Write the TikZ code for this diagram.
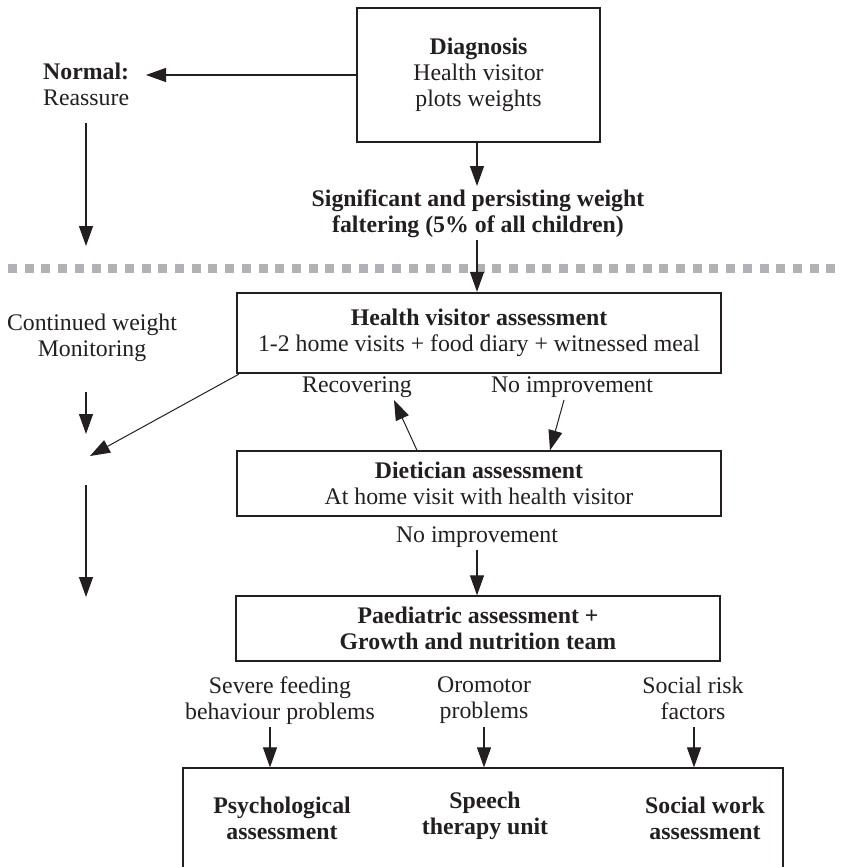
\documentclass[tikz,border=0pt]{standalone}
\usepackage{fontspec}
\setmainfont{Liberation Serif}
\usetikzlibrary{arrows.meta}
\definecolor{dashgray}{RGB}{178,178,182}
\definecolor{ink}{RGB}{35,31,32}
\begin{document}
\begin{tikzpicture}[x=1pt,y=-1pt, color=ink,
  box/.style={draw, line width=1.3pt, inner sep=0pt, align=center, font=\fontsize{23.8}{26}\selectfont},
  thickbox/.style={box, line width=2.4pt},
  arr/.style={line width=1.2pt, -{Triangle[length=20pt,width=14pt]}},
  thinarr/.style={line width=1pt, -{Triangle[length=20pt,width=14pt]}},
  txt/.style={align=center, font=\fontsize{23.8}{26}\selectfont, inner sep=0pt},
  btxt/.style={txt, font=\fontsize{23.8}{26}\selectfont\bfseries},
]
\useasboundingbox (0,0) rectangle (841,867);
\clip (0,0) rectangle (841,867);

% dashed separator
\draw[line width=9pt, color=dashgray, dash pattern=on 9pt off 7.7pt] (8,268) -- (845,268);

% boxes
\node[box, minimum width=243pt, minimum height=134pt] (diag) at (478.5,75)
  {\textbf{Diagnosis}\\Health visitor\\plots weights};
\node[thickbox, minimum width=484pt, minimum height=80pt] (hv) at (479,333)
  {\textbf{Health visitor assessment}\\1-2 home visits + food diary + witnessed meal};
\node[box, minimum width=484pt, minimum height=65pt] (diet) at (479,483.5)
  {\textbf{Dietician assessment}\\At home visit with health visitor};
\node[box, minimum width=484pt, minimum height=65pt] (paed) at (478,628.5)
  {\textbf{Paediatric assessment +}\\\textbf{Growth and nutrition team}};
\node[box, minimum width=600pt, minimum height=130pt] (bottom) at (483,833) {};

\node[btxt] (psy) at (282,818) {Psychological\\assessment};
\node[btxt] (speech) at (485,816) {Speech\\therapy unit};
\node[btxt] (social) at (705,818) {Social work\\assessment};

% free labels
\node[txt, align=left, anchor=west] (normal) at (43,84) {\textbf{Normal:}\\Reassure};
\node[btxt] (sig) at (478,213.5)
  {Significant and persisting weight\\faltering (5\% of all children)};
\node[txt] (cont) at (92,338) {Continued weight\\Monitoring};
\node[txt] (rec) at (357,387) {Recovering};
\node[txt] (noimp1) at (572,387) {No improvement};
\node[txt] (noimp2) at (477,537) {No improvement};
\node[txt] (severe) at (280,701) {Severe feeding\\behaviour problems};
\node[txt] (oro) at (484,700) {Oromotor\\problems};
\node[txt] (risk) at (693,698) {Social risk\\factors};

% coordinates for free ends
\coordinate (nTip) at (146,75);
\coordinate (l1s) at (86,123);
\coordinate (l1e) at (86,246);
\coordinate (l2s) at (86,392);
\coordinate (l2e) at (86,434);
\coordinate (diagTip) at (90,456);
\coordinate (l3s) at (86,485);
\coordinate (l3e) at (86,597);
\coordinate (sigTip) at (477,186);
\coordinate (sigOut) at (477,240);
\coordinate (recTip) at (394,400);
\coordinate (noS) at (564,400);
\coordinate (noiS) at (477,550);
\coordinate (sevS) at (270,727);
\coordinate (oroS) at (484,727);
\coordinate (riskS) at (694,727);

% connectors
\draw[arr] (diag.west |- nTip) -- (nTip);
\draw[arr] (l1s) -- (l1e);
\draw[arr] (diag.south -| sigTip) -- (sigTip);
\draw[arr] (sigOut) -- (hv.north -| sigOut);
\draw[arr] (l2s) -- (l2e);
\draw[thinarr] ([xshift=3pt]hv.south west) -- (diagTip);
\draw[arr] (l3s) -- (l3e);
\draw[thinarr] (diet.north -| 417,0) -- (recTip);
\draw[thinarr] (noS) -- (diet.north -| 550,0);
\draw[arr] (noiS) -- (paed.north -| noiS);
\draw[arr] (sevS) -- (bottom.north -| sevS);
\draw[arr] (oroS) -- (bottom.north -| oroS);
\draw[arr] (riskS) -- (bottom.north -| riskS);
\end{tikzpicture}
\end{document}
